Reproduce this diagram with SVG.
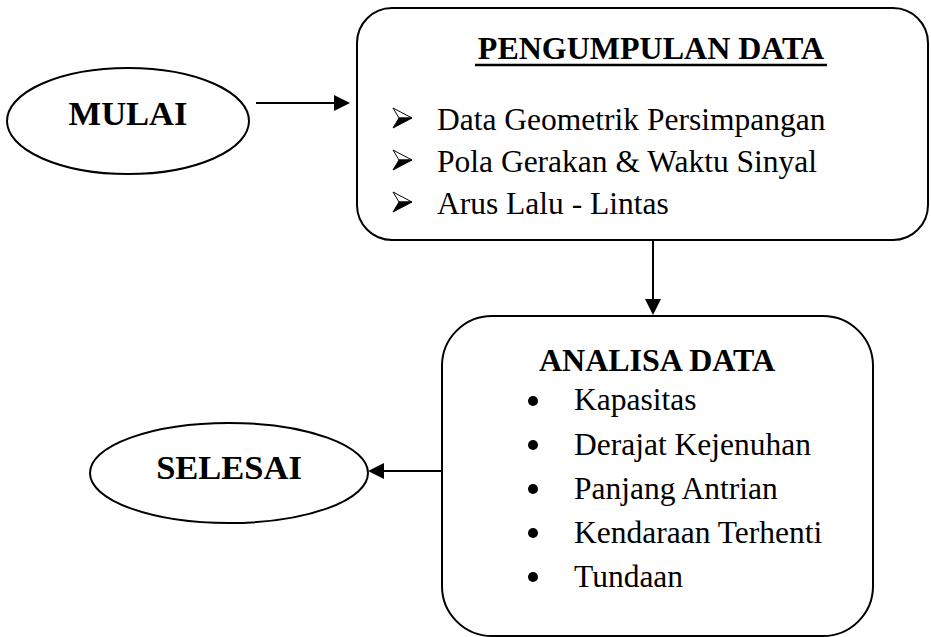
<svg xmlns="http://www.w3.org/2000/svg" width="931" height="637" viewBox="0 0 931 637">
<style>
.shape{fill:#fff;stroke:#000;stroke-width:2}
.t{font-family:"Liberation Serif","Times New Roman",serif;fill:#000}
.h{font-weight:bold;font-size:32px}
.e{font-weight:bold;font-size:34.5px}
.i{font-size:31.5px}
.c{stroke:#000;stroke-width:2;fill:none}
</style>
<defs>
<marker id="ah" markerWidth="8" markerHeight="8" refX="7" refY="4" orient="auto" markerUnits="strokeWidth">
<path d="M0,0 L8,4 L0,8 z" fill="#000"/>
</marker>
<g id="arr">
<polygon points="0,-10 19,0 6,0" fill="#fff" stroke="#000" stroke-width="1"/>
<polygon points="6,0 19,0 0,10" fill="#000" stroke="#000" stroke-width="1"/>
</g>
</defs>
<rect width="931" height="637" fill="#fff"/>
<g id="connectors">
<line class="c" x1="256" y1="103" x2="348" y2="103" marker-end="url(#ah)"/>
<line class="c" x1="653" y1="240" x2="653" y2="313" marker-end="url(#ah)"/>
<line class="c" x1="442" y1="471" x2="370" y2="471" marker-end="url(#ah)"/>
</g>
<g id="mulai">
<ellipse class="shape" cx="128" cy="121" rx="121" ry="53"/>
<text class="t e" x="128" y="125" text-anchor="middle">MULAI</text>
</g>
<g id="pengumpulan">
<rect class="shape" x="357" y="8" width="571" height="232" rx="35"/>
<text class="t h" x="651" y="59" text-anchor="middle">PENGUMPULAN DATA</text>
<line x1="475" y1="65" x2="827" y2="65" stroke="#000" stroke-width="2.4"/>
<use href="#arr" x="393" y="118"/>
<use href="#arr" x="393" y="160"/>
<use href="#arr" x="393" y="202"/>
<text class="t i" x="437" y="130">Data Geometrik Persimpangan</text>
<text class="t i" x="437" y="172">Pola Gerakan &amp; Waktu Sinyal</text>
<text class="t i" x="437" y="214">Arus Lalu - Lintas</text>
</g>
<g id="analisa">
<rect class="shape" x="442" y="316" width="431" height="320" rx="50"/>
<text class="t h" x="657" y="371" text-anchor="middle">ANALISA DATA</text>
<circle cx="533" cy="401" r="5"/>
<circle cx="533" cy="445" r="5"/>
<circle cx="533" cy="489" r="5"/>
<circle cx="533" cy="533" r="5"/>
<circle cx="533" cy="577" r="5"/>
<text class="t i" x="574" y="410">Kapasitas</text>
<text class="t i" x="574" y="455">Derajat Kejenuhan</text>
<text class="t i" x="574" y="499">Panjang Antrian</text>
<text class="t i" x="574" y="543">Kendaraan Terhenti</text>
<text class="t i" x="574" y="587">Tundaan</text>
</g>
<g id="selesai">
<ellipse class="shape" cx="229" cy="473" rx="139" ry="50"/>
<text class="t e" x="229" y="479" text-anchor="middle">SELESAI</text>
</g>
</svg>
